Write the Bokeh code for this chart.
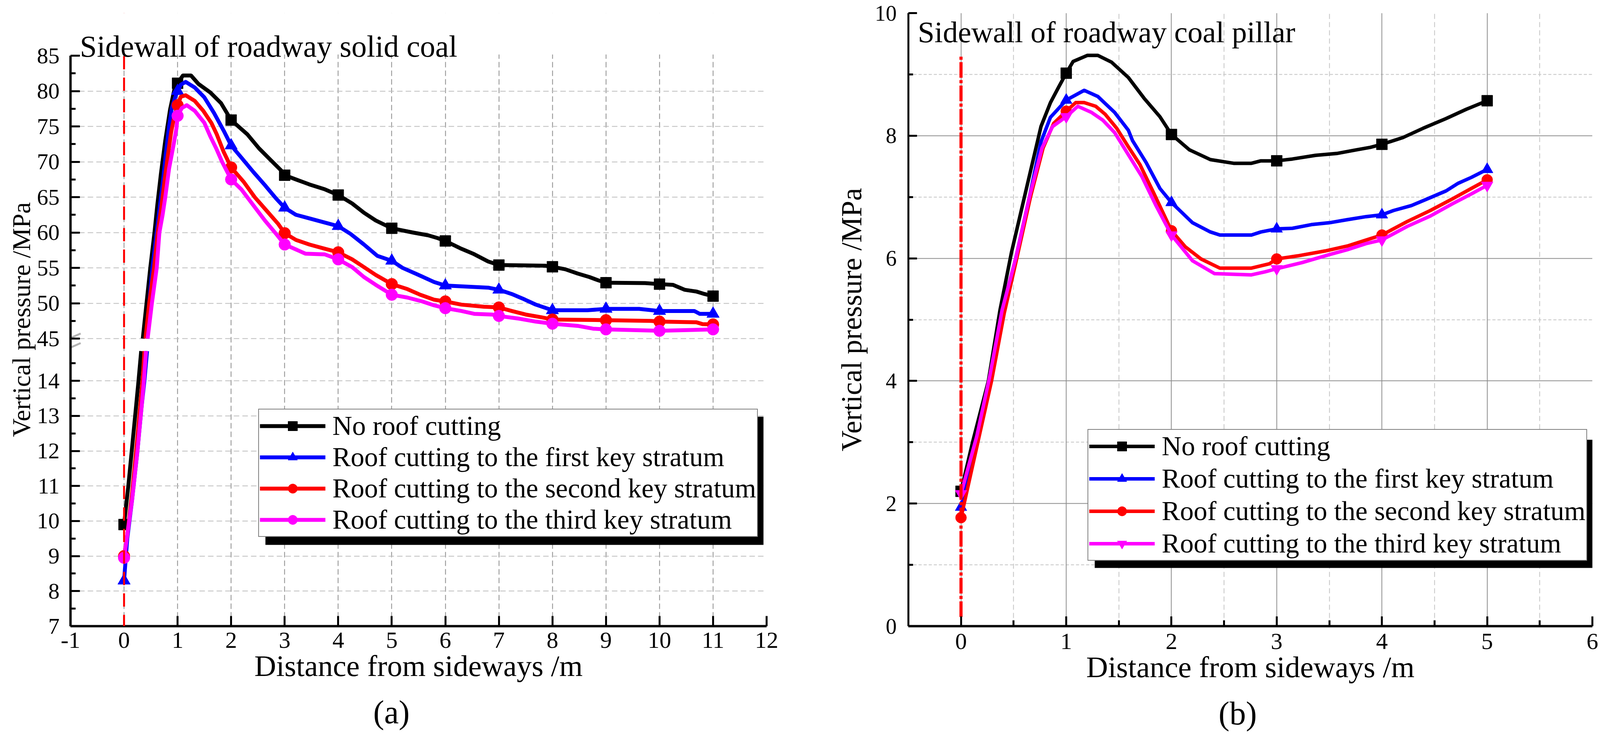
from bokeh.plotting import figure
from bokeh.models import (Range1d, FixedTicker, Grid, Span, Legend, LegendItem,
                          BoxAnnotation, PolyAnnotation, Label, Title)
from bokeh.layouts import row
from bokeh.embed import file_html
from bokeh.resources import INLINE

FONT = "Liberation Serif"

# ------------------------------------------------------------------ data
SERIES_LABELS = ["No roof cutting",
                 "Roof cutting to the first key stratum",
                 "Roof cutting to the second key stratum",
                 "Roof cutting to the third key stratum"]
COLORS = ["#000000", "#0000ff", "#ff0000", "#ff00ff"]

# (a) Sidewall of roadway solid coal
a_black_x = [0, 0.08, 0.15, 0.22, 0.27, 0.32, 0.35, 0.42, 0.49, 0.57, 0.62, 0.69, 0.77, 0.86, 0.95, 1.0,
             1.1, 1.25, 1.39, 1.61, 1.81, 2.0, 2.30, 2.52, 2.73, 2.93, 3.0, 3.21, 3.46, 3.75, 4.0,
             4.26, 4.48, 4.70, 5.0, 5.39, 5.68, 5.86, 6.0, 6.30, 6.52, 6.80, 7.0, 7.87, 8.0,
             8.24, 8.47, 8.69, 8.87, 9.0, 9.73, 10.0, 10.25, 10.47, 10.69, 10.84, 11.0]
a_black_y = [9.9, 11.0, 12.1, 13.2, 14.0, 14.85, 45.0, 50.0, 55.0, 60.1, 63.8, 68.4, 73.0, 77.4, 80.6, 81.1,
             82.2, 82.2, 81.0, 79.8, 78.3, 75.9, 73.9, 71.9, 70.3, 68.8, 68.1, 67.5, 66.8, 66.1, 65.3,
             64.1, 62.8, 61.7, 60.6, 60.0, 59.6, 59.2, 58.8, 57.7, 57.0, 55.9, 55.4, 55.3, 55.15,
             54.8, 54.2, 53.7, 53.2, 52.9, 52.85, 52.7, 52.6, 51.9, 51.65, 51.3, 51.0]

a_blue_x = [0, 0.06, 0.15, 0.25, 0.33, 0.38, 0.43, 0.42, 0.47, 0.53, 0.61, 0.67, 0.73, 0.78, 0.84, 0.89, 0.95, 1.0,
            1.06, 1.15, 1.32, 1.50, 1.68, 1.86, 2.0, 2.19, 2.41, 2.63, 2.84, 3.0, 3.21, 3.46, 3.75, 4.0,
            4.23, 4.48, 4.73, 5.0, 5.2, 5.50, 5.79, 6.0, 6.80, 7.0, 7.24, 7.46, 7.69, 8.0, 8.65, 9.0,
            9.62, 10.0, 10.65, 10.75, 11.0]
a_blue_y = [8.3, 9.5, 10.6, 12.0, 13.3, 14.0, 14.85, 45.0, 50.0, 55.0, 60.0, 63.8, 67.5, 71.1, 74.9, 77.5, 79.0, 80.0,
            80.9, 81.3, 80.5, 79.1, 76.9, 74.4, 72.3, 70.6, 68.6, 66.7, 64.8, 63.5, 62.5, 62.0, 61.4, 60.9,
            59.8, 58.3, 56.7, 56.0, 55.0, 54.0, 53.0, 52.5, 52.2, 51.9, 51.3, 50.6, 49.8, 49.0, 49.0, 49.2,
            49.2, 48.9, 48.9, 48.5, 48.5]

a_red_x = [0, 0.06, 0.15, 0.25, 0.32, 0.35, 0.38, 0.40, 0.47, 0.56, 0.63, 0.70, 0.76, 0.82, 0.88, 0.94, 1.0,
           1.06, 1.15, 1.32, 1.48, 1.63, 1.73, 1.86, 2.0, 2.23, 2.44, 2.66, 2.88, 3.0, 3.21, 3.46, 3.75, 4.0,
           4.26, 4.48, 4.70, 5.0, 5.29, 5.53, 5.79, 6.0, 6.30, 6.72, 7.0, 7.24, 7.50, 7.80, 8.0, 9.0,
           9.84, 10.0, 10.69, 10.8, 11.0]
a_red_y = [9.0, 9.6, 10.8, 12.4, 13.6, 14.1, 14.85, 45.0, 50.0, 55.0, 60.0, 63.8, 67.5, 71.0, 74.2, 76.5, 78.0,
           79.2, 79.4, 78.6, 77.2, 75.5, 73.9, 71.4, 69.2, 67.2, 65.0, 63.1, 61.2, 59.9, 58.95, 58.3, 57.7, 57.2,
           56.2, 55.1, 54.0, 52.7, 52.0, 51.2, 50.5, 50.25, 49.8, 49.5, 49.4, 48.9, 48.4, 48.0, 47.7, 47.6,
           47.5, 47.4, 47.3, 47.05, 47.0]

a_magenta_x = [0, 0.06, 0.15, 0.25, 0.33, 0.37, 0.41, 0.44, 0.52, 0.61, 0.66, 0.72, 0.77, 0.84, 0.92, 0.98, 1.0,
               1.08, 1.17, 1.32, 1.50, 1.61, 1.72, 1.83, 2.0, 2.19, 2.41, 2.63, 2.84, 3.0, 3.21, 3.39, 3.75, 4.0,
               4.26, 4.48, 4.70, 5.0, 5.29, 5.57, 5.79, 6.0, 6.30, 6.54, 6.87, 7.0, 7.39, 7.69, 8.0,
               8.47, 8.76, 9.0, 10.0, 11.0]
a_magenta_y = [8.95, 9.6, 10.6, 12.0, 13.3, 14.0, 14.85, 45.0, 50.0, 55.0, 60.0, 62.5, 65.0, 69.0, 72.2, 74.8, 76.5,
               77.6, 78.0, 77.2, 75.5, 73.6, 71.9, 70.0, 67.5, 66.1, 63.9, 61.7, 59.8, 58.3, 57.6, 57.0, 56.9, 56.2,
               55.1, 53.7, 52.6, 51.2, 50.8, 50.25, 49.7, 49.3, 48.9, 48.5, 48.4, 48.2, 47.8, 47.4, 47.1,
               46.8, 46.4, 46.3, 46.1, 46.3]

# (b) Sidewall of roadway coal pillar
b_black_x = [0, 0.11, 0.26, 0.37, 0.48, 0.63, 0.76, 0.85, 0.93, 1.0, 1.065, 1.20, 1.30, 1.43, 1.59, 1.74, 1.89, 2.0,
             2.17, 2.37, 2.59, 2.76, 2.85, 3.0, 3.15, 3.37, 3.57, 3.76, 3.89, 4.0, 4.20, 4.39, 4.61, 4.80, 5.0]
b_black_y = [2.2, 3.0, 4.0, 5.15, 6.1, 7.2, 8.15, 8.54, 8.80, 9.02, 9.21, 9.31, 9.31, 9.20, 8.95, 8.61, 8.31, 8.02,
             7.77, 7.61, 7.55, 7.55, 7.59, 7.59, 7.62, 7.68, 7.71, 7.77, 7.81, 7.86, 7.97, 8.12, 8.28, 8.43, 8.57]

b_blue_x = [0, 0.15, 0.27, 0.39, 0.52, 0.65, 0.76, 0.85, 1.0, 1.17, 1.30, 1.46, 1.59, 1.63, 1.76, 1.89, 2.0,
            2.20, 2.37, 2.46, 2.76, 2.85, 3.0, 3.15, 3.33, 3.50, 3.67, 3.85, 4.0, 4.11, 4.28, 4.46, 4.61, 4.72, 4.85, 5.0]
b_blue_y = [1.94, 3.0, 4.0, 5.15, 6.0, 7.0, 7.9, 8.3, 8.58, 8.74, 8.64, 8.38, 8.09, 7.92, 7.56, 7.14, 6.91,
            6.58, 6.43, 6.38, 6.38, 6.43, 6.48, 6.49, 6.55, 6.58, 6.63, 6.68, 6.71, 6.78, 6.86, 6.99, 7.10, 7.22, 7.32, 7.45]

b_red_x = [0, 0.16, 0.29, 0.41, 0.53, 0.66, 0.78, 0.88, 1.0, 1.09, 1.17, 1.28, 1.37, 1.48, 1.59, 1.70, 1.83, 2.0,
           2.13, 2.28, 2.46, 2.76, 2.93, 3.0, 3.20, 3.46, 3.67, 3.89, 4.0, 4.24, 4.46, 4.67, 4.85, 5.0]
b_red_y = [1.77, 3.0, 4.0, 5.1, 6.0, 7.0, 7.8, 8.2, 8.4, 8.54, 8.54, 8.48, 8.35, 8.12, 7.82, 7.53, 7.07, 6.45,
           6.19, 5.99, 5.84, 5.84, 5.91, 5.99, 6.04, 6.12, 6.20, 6.32, 6.38, 6.60, 6.78, 6.97, 7.14, 7.28]

b_magenta_x = [0, 0.15, 0.27, 0.39, 0.52, 0.65, 0.77, 0.87, 1.0, 1.11, 1.24, 1.35, 1.46, 1.59, 1.72, 1.85, 2.0,
               2.20, 2.41, 2.76, 2.89, 3.0, 3.24, 3.50, 3.67, 3.85, 4.0, 4.24, 4.46, 4.67, 4.85, 5.0]
b_magenta_y = [2.16, 3.1, 4.05, 5.15, 6.0, 7.0, 7.8, 8.15, 8.31, 8.48, 8.38, 8.25, 8.05, 7.69, 7.33, 6.87, 6.38,
               5.96, 5.75, 5.73, 5.78, 5.83, 5.93, 6.06, 6.14, 6.24, 6.30, 6.52, 6.69, 6.89, 7.05, 7.19]

# roadway boundary (x = 0) marker line in (b)
b_boundary_x = [0, 0]
b_boundary_y = [0.15, 9.3]

# axes / ticks
A_X_TICKS = list(range(-1, 13))
A_X_GRID = list(range(0, 12))
A_UP_TICKS = [45, 50, 55, 60, 65, 70, 75, 80, 85]
A_UP_MINOR = [47.5, 52.5, 57.5, 62.5, 67.5, 72.5, 77.5, 82.5]
A_UP_GRID = [45, 50, 55, 60, 65, 70, 75, 80]
A_LO_TICKS = [7, 8, 9, 10, 11, 12, 13, 14]
A_LO_MINOR = [7.5, 8.5, 9.5, 10.5, 11.5, 12.5, 13.5, 14.5]
A_LO_GRID = [8, 9, 10, 11, 12, 13, 14]
A_UP_SPAN = (45, 85)
A_LO_SPAN = (7, 14.9)

B_X_TICKS = [0, 1, 2, 3, 4, 5, 6]
B_X_MINOR = [0.5, 1.5, 2.5, 3.5, 4.5, 5.5]
B_Y_TICKS = [0, 2, 4, 6, 8, 10]
B_Y_MINOR = [1, 3, 5, 7, 9]
B_X_GRID_MAJOR = [0, 1, 2, 3, 4, 5]
B_Y_GRID_MAJOR = [2, 4, 6, 8]

# ------------------------------------------------------------------ layout constants (pixels)
BORDER_TOP, BORDER_BOTTOM = 33, 300
FA_W, FA_H = 1782, 1569
A_TOP_PAD = 109        # frame top -> y=85
A_UPPER_PX = 724       # 45..85
A_GAP_PX = 27.5        # axis break
A_LOWER_PX = FA_H - A_TOP_PAD - A_UPPER_PX - A_GAP_PX   # 7..14.9
FB_W, FB_H = 1751, 1569

UP_PPU = A_UPPER_PX / (A_UP_SPAN[1] - A_UP_SPAN[0])
LO_PPU = A_LOWER_PX / (A_LO_SPAN[1] - A_LO_SPAN[0])
up_end = A_UP_SPAN[1] + A_TOP_PAD / UP_PPU
up_start = A_UP_SPAN[0] - (A_GAP_PX + A_LOWER_PX) / UP_PPU
lo_end = A_LO_SPAN[0] + FA_H / LO_PPU


def lo_to_up(v):
    """position of a lower-segment value expressed on the upper segment's scale"""
    return up_start + (v - A_LO_SPAN[0]) * LO_PPU / UP_PPU


def style_axis(ax, size, standoff, tin, min_in, lw=6):
    ax.axis_line_width = lw
    ax.axis_line_color = "black"
    ax.major_tick_in = tin
    ax.major_tick_out = 0
    ax.minor_tick_in = min_in
    ax.minor_tick_out = 0
    ax.major_tick_line_width = 5
    ax.minor_tick_line_width = 5
    ax.major_tick_line_color = "black"
    ax.minor_tick_line_color = "black"
    ax.major_label_text_font = FONT
    ax.major_label_text_font_size = f"{size}px"
    ax.major_label_text_color = "black"
    ax.major_label_standoff = standoff
    ax.axis_label_text_font = FONT
    ax.axis_label_text_font_style = "normal"
    ax.axis_label_text_color = "black"


def grid(dim, ticks, color, dash, width=2, y_range_name="default"):
    return Grid(dimension=dim, ticker=FixedTicker(ticks=ticks), grid_line_color=color,
                grid_line_dash=dash, grid_line_width=width, y_range_name=y_range_name)


def integer_points(xs, ys):
    px = [x for x in xs if abs(x - round(x)) < 1e-9]
    py = [y for x, y in zip(xs, ys) if abs(x - round(x)) < 1e-9]
    return px, py


LEG_FONT = 70
LEG_GLYPH_W = 168
LEG_STANDOFF = 18
LEG_PAD = 2
LEG_ROW = 81
LEG_W = 2 * LEG_PAD + LEG_GLYPH_W + LEG_STANDOFF + 15.5 * LEG_FONT
LEG_H = 4 * LEG_ROW + 2 * LEG_PAD


def styled_legend(items, loc, spacing):
    lg = Legend(items=items, location=loc)
    lg.label_text_font = FONT
    lg.label_text_font_size = f"{LEG_FONT}px"
    lg.label_text_color = "black"
    lg.glyph_width = LEG_GLYPH_W
    lg.glyph_height = 60
    lg.label_height = 60
    lg.label_standoff = LEG_STANDOFF
    lg.spacing = spacing
    lg.padding = LEG_PAD
    lg.margin = 0
    lg.border_line_color = "black"
    lg.border_line_width = 2
    lg.background_fill_color = "white"
    lg.background_fill_alpha = 1.0
    return lg


def shadow(loc, dx, dy):
    x0, y0 = loc
    return BoxAnnotation(left=x0 + dx, right=x0 + LEG_W + dx, bottom=y0 - dy, top=y0 + LEG_H - dy,
                         left_units="screen", right_units="screen",
                         bottom_units="screen", top_units="screen",
                         fill_color="black", fill_alpha=1.0, line_color=None)


# ================================================================== panel (a)
pa = figure(frame_width=FA_W, frame_height=FA_H, x_range=Range1d(-1, 12),
            y_range=Range1d(up_start, up_end), toolbar_location=None, output_backend="svg",
            min_border_left=180, min_border_right=130, min_border_top=BORDER_TOP,
            min_border_bottom=BORDER_BOTTOM,
            background_fill_color="white", border_fill_color="white")
pa.outline_line_color = None
pa.extra_y_ranges = {"low": Range1d(A_LO_SPAN[0], lo_end)}
pa.grid.visible = False

# grids
pa.add_layout(grid(0, A_X_GRID, "#8c8c8c", "14 8"))
pa.add_layout(grid(1, A_UP_GRID, "#bdbdbd", "14 8"))
pa.add_layout(grid(1, A_LO_GRID, "#bdbdbd", "14 8", y_range_name="low"))

# x axis
pa.xaxis.ticker = FixedTicker(ticks=A_X_TICKS)
style_axis(pa.xaxis[0], 60, 16, 26, 0)
pa.xaxis.major_label_overrides = {t: str(t) for t in A_X_TICKS}
pa.xaxis.axis_label = "Distance from sideways /m"
pa.xaxis.axis_label_text_font_size = "77px"
pa.xaxis.axis_label_standoff = 0

# broken y axis: upper segment values plus lower segment values placed on the same axis
ya = pa.yaxis[0]
lo_major = [lo_to_up(v) for v in A_LO_TICKS]
lo_minor = [lo_to_up(v) for v in A_LO_MINOR]
ya.ticker = FixedTicker(ticks=lo_major + A_UP_TICKS, minor_ticks=lo_minor + A_UP_MINOR)
overrides = {t: str(t) for t in A_UP_TICKS}
overrides.update({lo_to_up(v): str(v) for v in A_LO_TICKS})
ya.major_label_overrides = overrides
ya.bounds = (lo_to_up(A_LO_SPAN[0]), A_UP_SPAN[1])
style_axis(ya, 58, 28, 24, 13)

pa.add_layout(Title(text="Vertical pressure /MPa", align="center", text_font=FONT,
                    text_font_size="66px", text_font_style="normal", text_color="black",
                    standoff=2), "left")
pa.add_layout(Title(text="(a)", align="left", offset=775, text_font=FONT, text_color="black",
                    text_font_size="84px", text_font_style="normal", standoff=48), "below")

# roadway boundary
pa.add_layout(Span(location=0, dimension="height", line_color="#ff0000", line_width=5,
                   line_dash="34 21"))

# series
a_series = [(a_black_x, a_black_y, "square", 28), (a_blue_x, a_blue_y, "triangle", 32),
            (a_red_x, a_red_y, "circle", 30), (a_magenta_x, a_magenta_y, "circle", 30)]
a_items = []
for (xs, ys, mk, sz), col, lab in zip(a_series, COLORS, SERIES_LABELS):
    lo = [(x, y) for x, y in zip(xs, ys) if y < 30]
    hi = [(x, y) for x, y in zip(xs, ys) if y >= 30]
    lx, ly = [p[0] for p in lo], [p[1] for p in lo]
    hx, hy = [p[0] for p in hi], [p[1] for p in hi]
    pa.line(lx, ly, line_color=col, line_width=10, line_join="round", y_range_name="low")
    rl = pa.line(hx, hy, line_color=col, line_width=10, line_join="round")
    mlx, mly = integer_points(lx, ly)
    mhx, mhy = integer_points(hx, hy)
    pa.scatter(mlx, mly, marker=mk, size=sz, color=col, y_range_name="low")
    rs = pa.scatter(mhx, mhy, marker=mk, size=sz, color=col)
    a_items.append(LegendItem(label=lab, renderers=[rl, rs]))

# blank area above the top of the scale (y > 85)
pa.add_layout(BoxAnnotation(left=4, right=FA_W + 4, bottom=FA_H - A_TOP_PAD + 3, top=FA_H + 4,
                            left_units="screen", right_units="screen",
                            bottom_units="screen", top_units="screen",
                            fill_color="white", fill_alpha=1.0, line_color=None))
# axis break marks
gap_bottom = A_LOWER_PX
gap_top = A_LOWER_PX + A_GAP_PX
for off in (gap_top - 11, gap_bottom - 8):
    pa.add_layout(PolyAnnotation(xs=[-28, 26], ys=[off, off + 24], xs_units="screen", ys_units="screen",
                                 line_color="black", line_width=5, fill_alpha=0))

pa.add_layout(Label(x=24, y=FA_H - (126 - 41), x_units="screen", y_units="screen",
                    text="Sidewall of roadway solid coal", text_font=FONT,
                    text_font_size="78px", text_baseline="alphabetic", text_color="black"))

# legend with shadow
loc_a = (481, FA_H + 41 - 1382)
pa.add_layout(shadow(loc_a, 18, 20))
pa.add_layout(styled_legend(a_items, loc_a, 0), "center")

# ================================================================== panel (b)
pb = figure(frame_width=FB_W, frame_height=FB_H, x_range=Range1d(-0.5, 6), y_range=Range1d(0, 10),
            toolbar_location=None, output_backend="svg",
            min_border_left=233, min_border_right=34, min_border_top=BORDER_TOP,
            min_border_bottom=BORDER_BOTTOM,
            background_fill_color="white", border_fill_color="white")
pb.outline_line_color = None
pb.grid.visible = False

pb.add_layout(grid(0, B_X_MINOR, "#c4c4c4", "13 8"))
pb.add_layout(grid(1, B_Y_MINOR, "#c4c4c4", "8 5"))
pb.add_layout(grid(0, B_X_GRID_MAJOR, "#8c8c8c", "solid"))
pb.add_layout(grid(1, B_Y_GRID_MAJOR, "#8c8c8c", "solid"))

pb.xaxis.ticker = FixedTicker(ticks=B_X_TICKS, minor_ticks=B_X_MINOR)
style_axis(pb.xaxis[0], 60, 19, 25, 15)
pb.xaxis.axis_label = "Distance from sideways /m"
pb.xaxis.axis_label_text_font_size = "77px"
pb.xaxis.axis_label_standoff = 0

pb.yaxis.ticker = FixedTicker(ticks=B_Y_TICKS, minor_ticks=B_Y_MINOR)
style_axis(pb.yaxis[0], 56, 30, 22, 12, lw=5)
pb.yaxis.axis_label = "Vertical pressure /MPa"
pb.yaxis.axis_label_text_font_size = "74px"
pb.yaxis.axis_label_standoff = 16

pb.add_layout(Title(text="(b)", align="left", offset=794, text_font=FONT, text_color="black",
                    text_font_size="84px", text_font_style="normal", standoff=48), "below")
pb.add_layout(Label(x=24, y=FB_H - (89 - 41), x_units="screen", y_units="screen",
                    text="Sidewall of roadway coal pillar", text_font=FONT,
                    text_font_size="77px", text_baseline="alphabetic", text_color="black"))

b_series = [(b_black_x, b_black_y, "square", 28), (b_blue_x, b_blue_y, "triangle", 30),
            (b_red_x, b_red_y, "circle", 28), (b_magenta_x, b_magenta_y, "inverted_triangle", 30)]
b_items = []
for (xs, ys, mk, sz), col, lab in zip(b_series, COLORS, SERIES_LABELS):
    rl = pb.line(xs, ys, line_color=col, line_width=9, line_join="round")
    mx, my = integer_points(xs, ys)
    rs = pb.scatter(mx, my, marker=mk, size=sz, color=col)
    b_items.append(LegendItem(label=lab, renderers=[rl, rs]))

pb.line(b_boundary_x, b_boundary_y, line_color="#ff0000", line_width=8, line_dash="40 6 8 6")

loc_b = (459, FB_H + 41 - 1443)
pb.add_layout(shadow(loc_b, 18, 18))
pb.add_layout(styled_legend(b_items, loc_b, 3), "center")

layout = row(pa, pb)
open("out.html", "w").write(file_html(layout, INLINE))
